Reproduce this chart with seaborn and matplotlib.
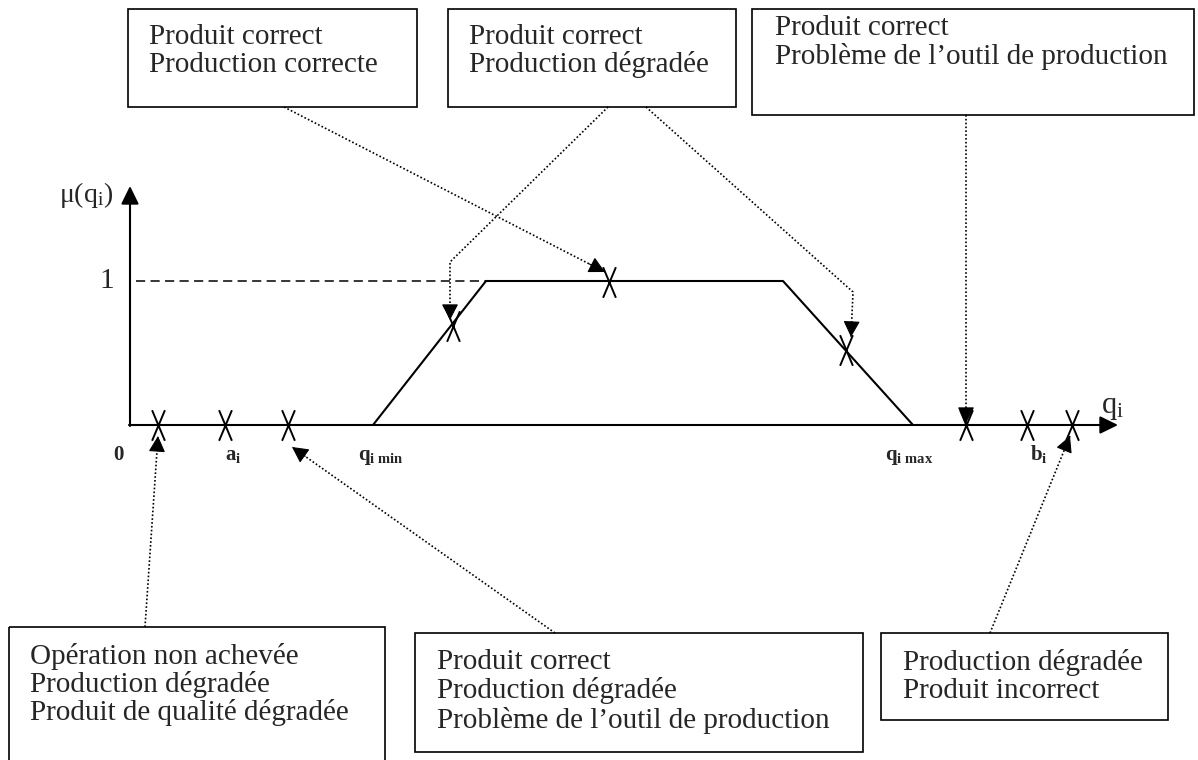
import matplotlib
matplotlib.use("Agg")
import matplotlib.pyplot as plt
import pandas as pd
import seaborn as sns
from matplotlib.patches import Rectangle
from matplotlib.path import Path

# Pixel-space layout of the diagram (x to the right, y downward)
ORIGIN_X = 130
ORIGIN_Y = 425
UNIT_Y = 144  # pixels for mu = 1

# membership function (trapezoid) : q positions and mu values
trap_q = [373, 486, 783, 913]
trap_mu = [0, 1, 1, 0]

# observed points (crosses)
cross_q = [158, 225, 288, 453, 609, 846, 966, 1027, 1072]
cross_mu = [0, 0, 0, 0.69, 0.99, 0.52, 0, 0, 0]

# x axis labels
axis_labels = [r"$\mathbf{0}$", r"$\mathbf{a_i}$", r"$\mathbf{q_{i\ min}}$",
               r"$\mathbf{q_{i\ max}}$", r"$\mathbf{b_i}$"]
axis_label_q = [113, 225, 358, 885, 1030]

# text boxes: (x0, y0, x1, y1), lines
box_rects = [
    (128, 9, 417, 107),
    (448, 9, 736, 107),
    (752, 9, 1194, 115),
    (9, 627, 385, 762),
    (415, 633, 863, 752),
    (881, 633, 1168, 720),
]
box_lines = [
    ["Produit correct", "Production correcte"],
    ["Produit correct", "Production dégradée"],
    ["Produit correct", "Problème de l’outil de production"],
    ["Opération non achevée", "Production dégradée", "Produit de qualité dégradée"],
    ["Produit correct", "Production dégradée", "Problème de l’outil de production"],
    ["Production dégradée", "Produit incorrect"],
]
box_text_x = [149, 469, 775, 30, 437, 903]
box_text_y = [
    [37, 65],
    [37, 65],
    [28, 57],
    [657, 685, 713],
    [662, 691, 720],
    [662, 691],
]

# dotted leader lines: polyline from the box to the arrow tip
leaders = [
    [(284, 107), (605, 272)],
    [(608, 107), (450, 262), (450, 320)],
    [(646, 107), (853, 292), (851, 337)],
    [(966, 115), (966, 423)],
    [(145, 627), (158, 436)],
    [(555, 633), (292, 447)],
    [(990, 633), (1070, 436)],
]


def mu_to_y(mu):
    return ORIGIN_Y - UNIT_Y * mu


sns.set_theme(style="white")
plt.rcParams["font.family"] = ["Liberation Serif", "DejaVu Serif"]
plt.rcParams["mathtext.fontset"] = "custom"
plt.rcParams["mathtext.rm"] = "Liberation Serif"
plt.rcParams["mathtext.it"] = "Liberation Serif"
plt.rcParams["mathtext.bf"] = "Liberation Serif:bold"

fig = plt.figure(figsize=(11.98, 7.6), dpi=100)
ax = fig.add_axes([0, 0, 1, 1])
ax.set_xlim(0, 1198)
ax.set_ylim(760, 0)
ax.axis("off")

# axes with arrows
axis_arrow = dict(arrowstyle="-|>,head_length=0.55,head_width=0.27",
                  color="black", lw=1.5, mutation_scale=20, shrinkA=0, shrinkB=0)
ax.annotate("", xy=(ORIGIN_X, 186), xytext=(ORIGIN_X, ORIGIN_Y + 1),
            arrowprops=axis_arrow)
ax.annotate("", xy=(1118, ORIGIN_Y), xytext=(ORIGIN_X - 1, ORIGIN_Y),
            arrowprops=axis_arrow)

# dashed level 1
ax.plot([ORIGIN_X + 6, trap_q[1]], [mu_to_y(1), mu_to_y(1)], color="black",
        lw=1.1, ls=(0, (6, 3.5)))

# trapezoid
trap = pd.DataFrame({"q": trap_q, "y": [mu_to_y(m) for m in trap_mu]})
sns.lineplot(data=trap, x="q", y="y", sort=False, color="black", lw=1.5,
             ax=ax, estimator=None)

# crosses
cross_path = Path([(-0.21, -0.5), (0.21, 0.5), (-0.21, 0.5), (0.21, -0.5)],
                  [Path.MOVETO, Path.LINETO, Path.MOVETO, Path.LINETO])
ax.plot(cross_q, [mu_to_y(m) for m in cross_mu], ls="none", marker=cross_path,
        ms=22, mew=1.4, mec="black", mfc="none")

# axis labels
ax.text(113, 195, r"μ(q$_{\mathrm{i}}$)", fontsize=20, ha="right", va="center")
ax.text(107, mu_to_y(1), "1", fontsize=21, ha="center", va="center")
ax.text(1101, 413, r"q$_{\mathrm{i}}$", fontsize=22, ha="left", va="baseline")
for lab, q in zip(axis_labels, axis_label_q):
    ax.text(q, 460, lab, fontsize=15, ha="left", va="baseline")

# boxes
for rect, lines, tx, ys in zip(box_rects, box_lines, box_text_x, box_text_y):
    x0, y0, x1, y1 = rect
    ax.add_patch(Rectangle((x0, y0), x1 - x0, y1 - y0, fill=False,
                           ec="black", lw=1.2))
    for line, y in zip(lines, ys):
        ax.text(tx, y, line, fontsize=21, ha="left", va="center")

# dotted leaders with arrow heads
head = dict(arrowstyle="-|>,head_length=0.5,head_width=0.26", color="black",
            lw=0.8, mutation_scale=20, shrinkA=0, shrinkB=0)
for pts in leaders:
    xs = [p[0] for p in pts]
    ys = [p[1] for p in pts]
    ax.plot(xs, ys, color="black", lw=1.2, ls=(0, (1, 1.3)))
    (xa, ya), (xb, yb) = pts[-2], pts[-1]
    ax.annotate("", xy=(xb, yb), xytext=(xb - (xb - xa) * 0.05, yb - (yb - ya) * 0.05),
                arrowprops=head)

fig.savefig("out.png", dpi=100)
